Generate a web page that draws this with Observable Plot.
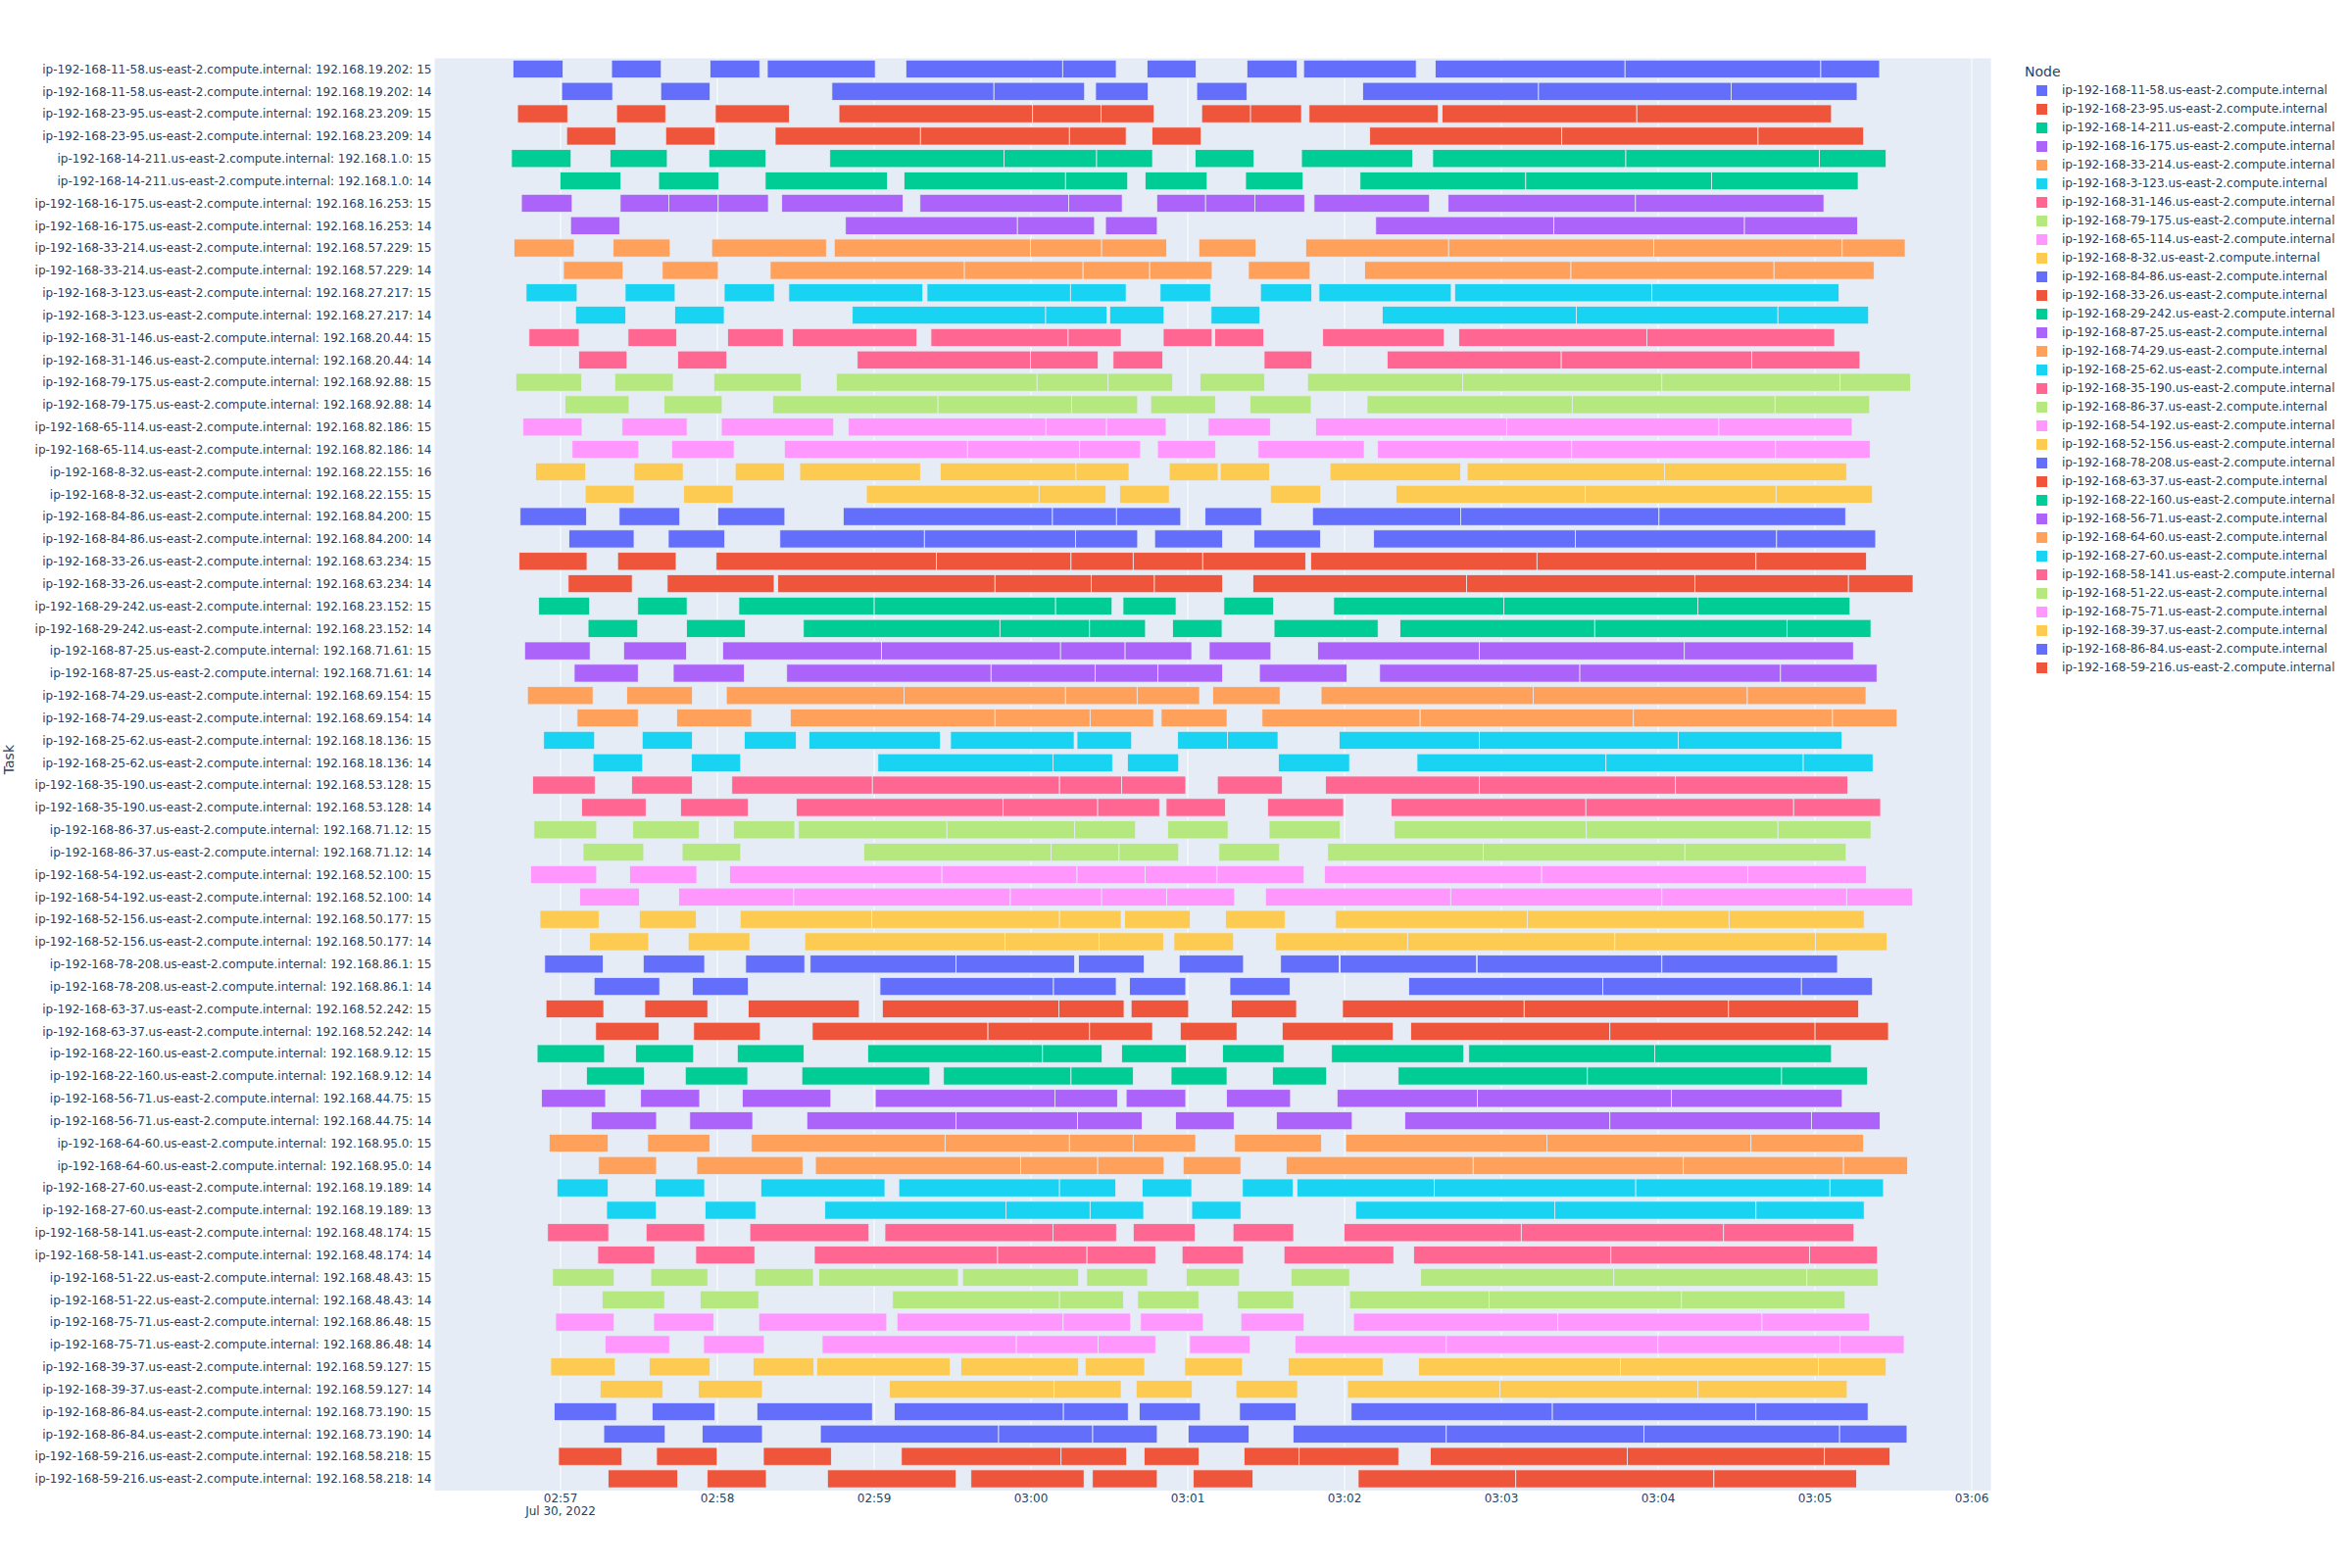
<!DOCTYPE html>
<html><head><meta charset="utf-8">
<script src="https://cdn.jsdelivr.net/npm/d3@7"></script>
<script src="https://cdn.jsdelivr.net/npm/@observablehq/plot@0.6"></script>
<style>
body{margin:0;background:#fff;font-family:"DejaVu Sans",verdana,arial,sans-serif;}
#wrap{position:relative;width:2400px;height:1600px;overflow:hidden;}
#wrap svg{position:absolute;left:0;top:0;}
.lg-title{position:absolute;font-size:14px;color:#2a3f5f;line-height:20px;white-space:nowrap;}
.lg-sw{position:absolute;width:11px;height:11px;}
.lg-tx{position:absolute;font-size:12px;color:#2a3f5f;line-height:19px;height:19px;white-space:nowrap;}
</style></head>
<body><div id="wrap"></div>
<script>
const hosts = ["11-58","23-95","14-211","16-175","33-214","3-123","31-146","79-175","65-114","8-32","84-86","33-26","29-242","87-25","74-29","25-62","35-190","86-37","54-192","52-156","78-208","63-37","22-160","56-71","64-60","27-60","58-141","51-22","75-71","39-37","86-84","59-216"];
const ips = ["192.168.19.202","192.168.23.209","192.168.1.0","192.168.16.253","192.168.57.229","192.168.27.217","192.168.20.44","192.168.92.88","192.168.82.186","192.168.22.155","192.168.84.200","192.168.63.234","192.168.23.152","192.168.71.61","192.168.69.154","192.168.18.136","192.168.53.128","192.168.71.12","192.168.52.100","192.168.50.177","192.168.86.1","192.168.52.242","192.168.9.12","192.168.44.75","192.168.95.0","192.168.19.189","192.168.48.174","192.168.48.43","192.168.86.48","192.168.59.127","192.168.73.190","192.168.58.218"];
const workers = [[15,14],[15,14],[15,14],[15,14],[15,14],[15,14],[15,14],[15,14],[15,14],[16,15],[15,14],[15,14],[15,14],[15,14],[15,14],[15,14],[15,14],[15,14],[15,14],[15,14],[15,14],[15,14],[15,14],[15,14],[15,14],[14,13],[15,14],[15,14],[15,14],[15,14],[15,14],[15,14]];

// bar start/end, seconds after 02:57:00 (Jul 30, 2022), one list per task row (top to bottom)
const segments = [
[[-18.0,1.1],[19.7,38.7],[57.4,76.4],[79.3,120.6],[132.3,192.3],[192.3,212.8],[224.6,243.4],[262.8,282.0],[284.5,327.6],[334.9,407.5],[407.5,482.4],[482.4,504.9]],
[[0.6,20.1],[38.5,57.4],[104.0,166.0],[166.0,200.7],[204.9,225.0],[243.6,262.8],[307.1,374.4],[374.4,448.1],[448.1,496.3]],
[[-16.3,2.9],[21.6,40.4],[59.4,87.7],[106.7,180.8],[180.8,207.0],[207.0,227.3],[245.5,264.2],[264.2,283.7],[286.6,336.0],[337.5,412.0],[412.0,486.5]],
[[2.5,21.3],[40.4,59.2],[82.3,137.9],[137.9,194.9],[194.9,216.6],[226.5,245.3],[309.8,383.3],[383.3,458.4],[458.4,498.8]],
[[-18.6,4.2],[19.1,41.0],[56.9,78.7],[103.2,169.9],[169.9,205.3],[205.3,226.7],[243.0,265.5],[283.7,326.2],[333.9,407.8],[407.8,481.9],[481.9,507.4]],
[[0.0,23.2],[37.7,60.7],[78.5,125.2],[131.6,193.4],[193.4,217.2],[223.9,247.6],[262.3,284.3],[306.1,369.5],[369.5,440.6],[440.6,496.7]],
[[-14.8,4.6],[23.0,41.6],[41.6,60.5],[60.5,79.7],[84.8,131.2],[137.7,194.6],[194.6,215.1],[228.3,247.0],[247.0,265.9],[265.9,284.9],[288.5,332.7],[339.8,411.5],[411.5,483.6]],
[[4.0,22.8],[109.2,175.0],[175.0,204.5],[208.7,228.5],[312.1,380.2],[380.2,453.2],[453.2,496.5]],
[[-17.6,5.4],[20.3,42.1],[58.0,101.9],[104.9,180.0],[180.0,207.2],[207.2,232.1],[244.4,266.3],[285.3,340.0],[340.0,418.5],[418.5,490.6],[490.6,514.7]],
[[1.3,24.1],[39.1,60.5],[80.4,154.7],[154.7,200.1],[200.1,225.6],[225.6,249.5],[263.4,287.0],[307.9,386.8],[386.8,464.5],[464.5,502.8]],
[[-13.0,6.5],[24.9,44.0],[62.8,82.0],[87.5,138.8],[140.4,195.3],[195.3,216.6],[229.6,248.9],[268.0,287.6],[290.4,341.0],[342.3,417.8],[417.8,489.4]],
[[5.9,25.1],[43.9,62.8],[111.8,185.8],[185.8,209.3],[210.3,231.1],[249.1,267.8],[314.6,388.9],[388.9,466.0],[466.0,500.7]],
[[-11.9,7.3],[26.0,44.6],[64.1,85.4],[88.9,136.5],[141.9,194.4],[194.4,214.7],[230.8,249.5],[250.5,269.2],[291.8,338.3],[343.9,415.9],[415.9,487.7]],
[[7.1,25.6],[45.0,63.8],[113.7,180.0],[180.0,205.9],[211.6,230.6],[269.4,287.7],[316.5,383.1],[383.1,456.0],[456.0,497.4]],
[[-16.9,8.2],[20.9,43.3],[58.8,92.3],[105.7,182.5],[182.5,209.7],[209.7,234.4],[244.9,269.6],[286.0,345.4],[345.4,421.6],[421.6,489.8],[489.8,516.8]],
[[1.9,26.4],[39.8,62.0],[81.4,144.6],[144.6,195.7],[195.7,221.0],[226.0,250.8],[264.0,287.4],[308.8,387.3],[387.3,464.9],[464.9,501.1]],
[[-14.2,8.4],[23.7,48.6],[61.7,104.7],[110.3,185.9],[185.9,209.1],[209.1,231.9],[248.0,271.8],[289.1,362.2],[362.2,443.4],[443.4,494.4]],
[[4.6,30.1],[42.7,66.6],[85.8,155.9],[155.9,198.8],[198.8,222.1],[228.6,250.9],[267.1,307.7],[312.8,387.1],[387.1,465.1],[465.1,501.3]],
[[-9.4,9.8],[28.3,47.1],[67.0,85.8],[91.7,137.9],[145.5,197.4],[197.4,217.7],[233.1,251.8],[252.6,271.5],[294.6,344.6],[347.1,422.6],[422.6,492.3]],
[[9.6,28.3],[47.3,66.2],[117.2,183.3],[183.3,208.9],[214.1,233.1],[271.8,291.0],[319.9,392.3],[392.3,465.3],[465.3,502.2]],
[[-15.3,10.1],[22.6,45.8],[60.3,86.0],[108.4,188.4],[188.4,212.9],[212.9,237.5],[246.8,268.4],[287.9,344.6],[344.6,420.5],[420.5,491.9]],
[[3.4,28.3],[41.4,63.0],[84.1,139.4],[139.4,197.2],[197.2,221.0],[227.5,253.5],[265.5,291.0],[311.3,388.5],[388.5,465.5],[465.5,503.4]],
[[-15.7,10.3],[22.0,44.4],[59.7,144.0],[144.0,195.5],[195.5,219.3],[219.3,245.9],[245.9,285.3],[287.2,373.8],[373.8,457.6],[457.6,499.9]],
[[3.1,27.6],[41.0,81.9],[83.3,166.4],[166.4,203.2],[203.2,227.4],[227.4,253.5],[265.1,346.9],[346.9,434.2],[434.2,493.0],[493.0,517.7]],
[[-8.2,11.3],[29.7,48.6],[68.4,120.2],[120.2,189.6],[189.6,211.2],[215.4,235.7],[254.0,273.0],[296.0,361.1],[361.1,435.4],[435.4,493.6]],
[[10.7,29.7],[48.4,70.9],[93.1,168.3],[168.3,202.6],[202.6,224.0],[234.4,253.3],[273.2,313.0],[321.4,395.9],[395.9,469.5],[469.5,501.6]],
[[-13.6,11.5],[24.3,48.4],[62.2,123.0],[123.0,191.5],[191.5,216.2],[216.2,241.7],[248.4,272.0],[289.9,351.7],[351.7,430.2],[430.2,494.9]],
[[5.4,29.9],[43.3,70.5],[86.7,164.9],[164.9,204.7],[204.7,228.7],[228.7,253.5],[267.6,301.1],[313.6,390.2],[390.2,467.0],[467.0,503.9]],
[[-12.5,12.6],[25.5,50.6],[63.6,131.6],[131.6,193.4],[193.4,220.8],[220.8,244.7],[249.7,275.5],[291.2,372.4],[372.4,454.3],[454.3,499.7]],
[[6.5,29.9],[44.6,73.3],[88.1,166.4],[166.4,202.8],[202.8,227.1],[230.0,255.2],[268.6,329.1],[329.1,410.7],[410.7,486.9],[486.9,511.6]],
[[-6.3,13.2],[31.4,50.6],[70.5,90.4],[95.2,145.5],[149.4,196.7],[197.8,218.7],[236.3,255.4],[255.4,274.7],[298.1,351.7],[351.7,427.9],[427.9,490.5]],
[[12.6,31.6],[50.2,69.1],[121.6,188.6],[188.6,211.4],[217.1,236.7],[274.9,302.1],[327.9,400.2],[400.2,475.7],[475.7,502.4]],
[[-10.5,13.4],[27.4,50.6],[65.7,119.5],[119.5,191.1],[191.1,214.9],[214.9,239.4],[251.5,276.4],[292.9,351.7],[351.7,426.8],[426.8,492.7]],
[[8.2,32.9],[46.1,72.0],[90.4,169.5],[169.5,205.7],[205.7,229.4],[231.9,254.6],[270.7,299.8],[318.0,392.5],[392.5,472.0],[472.0,505.3]],
[[-10.0,14.0],[27.8,53.2],[66.3,89.8],[91.2,148.0],[148.0,196.9],[196.9,220.2],[232.5,255.6],[271.3,298.5],[319.2,392.7],[392.7,466.0],[466.0,501.6]],
[[8.8,32.0],[46.7,69.1],[116.2,187.9],[187.9,213.9],[213.9,236.7],[252.1,275.3],[293.7,353.2],[353.2,430.4],[430.4,492.1]],
[[-11.3,14.0],[26.6,52.3],[64.9,146.1],[146.1,197.8],[197.8,223.9],[223.9,251.4],[251.4,284.7],[292.5,375.6],[375.6,454.5],[454.5,499.9]],
[[7.5,30.4],[45.4,89.4],[89.4,172.3],[172.3,207.2],[207.2,232.1],[232.1,258.1],[269.9,340.8],[340.8,421.6],[421.6,492.3],[492.3,517.5]],
[[-7.7,14.9],[30.3,52.1],[68.9,119.3],[119.3,191.1],[191.1,214.7],[216.0,241.1],[254.6,277.4],[296.7,370.1],[370.1,447.3],[447.3,499.0]],
[[11.3,33.9],[49.0,72.6],[93.6,170.2],[170.2,206.2],[206.2,230.9],[234.9,257.7],[273.8,324.3],[324.3,403.6],[403.6,480.4],[480.4,507.8]],
[[-5.9,16.5],[31.8,55.3],[71.0,93.6],[95.7,151.5],[151.5,196.9],[198.4,223.5],[236.9,261.5],[275.7,298.1],[298.5,350.7],[350.9,421.6],[421.6,488.8]],
[[13.0,38.1],[50.6,72.0],[122.4,188.8],[188.8,212.8],[217.9,239.4],[256.3,279.3],[324.7,399.0],[399.0,475.0],[475.0,502.2]],
[[-5.4,16.7],[32.4,56.5],[72.0,114.5],[123.3,190.9],[190.9,215.8],[218.5,240.5],[256.9,281.8],[299.4,368.9],[368.9,447.1],[447.1,496.9]],
[[13.6,37.9],[51.1,76.6],[96.5,163.7],[163.7,202.6],[202.6,226.7],[237.3,259.0],[276.3,318.8],[325.5,401.7],[401.7,480.2],[480.2,508.3]],
[[-8.8,17.0],[28.9,51.1],[67.8,93.3],[117.7,184.6],[184.6,207.4],[214.9,239.6],[253.5,277.0],[295.2,345.8],[347.7,418.9],[418.9,486.5]],
[[10.1,32.2],[47.9,71.8],[92.5,141.5],[146.7,195.5],[195.5,219.3],[233.8,255.2],[272.6,293.3],[320.7,393.1],[393.1,467.4],[467.4,500.3]],
[[-7.1,17.4],[30.8,53.4],[69.7,103.6],[120.6,189.4],[189.4,213.3],[216.6,239.4],[255.0,279.5],[297.3,351.0],[351.0,425.2],[425.2,490.6]],
[[11.9,36.9],[49.6,73.7],[94.4,151.5],[151.5,198.0],[198.0,222.7],[235.5,257.9],[274.1,303.1],[323.2,401.7],[401.7,478.9],[478.9,505.1]],
[[-4.2,18.4],[33.5,57.3],[73.2,147.3],[147.3,194.9],[194.9,219.3],[219.3,243.2],[258.1,291.4],[300.6,377.6],[377.6,455.7],[455.7,498.8]],
[[14.7,36.9],[52.3,92.9],[97.7,176.2],[176.2,205.7],[205.7,231.1],[238.4,260.5],[277.8,349.4],[349.4,429.8],[429.8,491.1],[491.1,515.6]],
[[-1.2,18.4],[36.4,55.3],[76.8,124.3],[129.6,191.1],[191.1,212.6],[222.7,241.7],[261.1,280.5],[282.0,334.5],[334.5,411.6],[411.6,485.9],[485.9,506.4]],
[[17.8,36.8],[55.5,74.9],[101.3,170.6],[170.6,202.8],[202.8,223.3],[241.7,260.5],[304.4,380.6],[380.6,457.6],[457.6,499.0]],
[[-4.8,18.6],[32.9,55.3],[72.6,118.2],[124.3,188.6],[188.6,212.9],[219.3,243.0],[257.5,280.7],[300.0,367.8],[367.8,445.2],[445.2,495.1]],
[[14.4,36.2],[51.9,74.5],[97.3,167.4],[167.4,201.6],[201.6,227.9],[238.0,261.5],[277.0,319.0],[326.6,402.1],[402.1,478.1],[478.1,504.1]],
[[-2.9,20.7],[34.7,56.5],[74.5,96.9],[99.0,152.4],[154.0,198.4],[201.5,224.8],[239.6,260.0],[279.7,302.1],[329.3,403.2],[403.2,477.1],[477.1,504.3]],
[[16.1,40.0],[53.6,76.0],[127.2,191.1],[191.1,215.6],[221.0,244.4],[259.2,280.7],[302.1,355.5],[355.5,429.1],[429.1,491.7]],
[[-1.7,20.7],[35.8,58.8],[76.0,125.0],[128.9,192.5],[192.5,218.3],[222.1,246.1],[260.5,284.7],[303.6,381.8],[381.8,459.9],[459.9,501.1]],
[[17.2,41.9],[54.9,78.1],[100.3,174.6],[174.6,205.9],[205.9,227.9],[240.9,264.0],[281.2,339.1],[339.1,420.1],[420.1,489.8],[489.8,514.3]],
[[-3.6,21.1],[34.1,57.4],[73.9,97.1],[98.2,149.2],[153.4,198.4],[200.9,223.7],[239.0,261.1],[278.6,314.9],[328.5,405.7],[405.7,481.5],[481.5,507.4]],
[[15.3,39.3],[52.9,77.4],[126.0,189.0],[189.0,214.7],[220.4,241.9],[258.6,282.2],[301.3,359.6],[359.6,435.4],[435.4,492.5]],
[[-2.3,21.6],[35.2,59.2],[75.3,119.5],[127.9,192.6],[192.6,217.4],[221.6,245.0],[260.0,281.6],[302.7,379.7],[379.7,457.6],[457.6,500.5]],
[[16.7,40.2],[54.4,77.4],[99.6,167.8],[167.8,203.8],[203.8,228.5],[240.3,263.6],[280.5,339.1],[339.1,414.7],[414.7,489.6],[489.6,515.4]],
[[-0.6,23.7],[36.9,60.1],[77.8,103.8],[130.6,191.7],[191.7,216.8],[223.5,244.5],[261.7,282.8],[282.8,320.9],[333.0,408.4],[408.4,483.8],[483.8,508.9]],
[[18.4,45.0],[56.3,78.9],[102.3,151.5],[157.2,200.5],[203.7,228.5],[242.3,265.1],[305.4,365.7],[365.7,441.5],[441.5,496.1]]
];

const tickLabels = ["02:57","02:58","02:59","03:00","03:01","03:02","03:03","03:04","03:05","03:06"];
const dateLabel = "Jul 30, 2022";
const palette = ["#636efa","#EF553B","#00cc96","#ab63fa","#FFA15A","#19d3f3","#FF6692","#B6E880","#FF97FF","#FECB52"];

const nodes = hosts.map(h => `ip-192-168-${h}.us-east-2.compute.internal`);
const taskLabels = [], taskNodes = [];
hosts.forEach((h, i) => workers[i].forEach(w => {
  taskLabels.push(`${nodes[i]}: ${ips[i]}: ${w}`);
  taskNodes.push(nodes[i]);
}));

const base = Date.UTC(2022, 6, 30, 2, 57, 0);
const toDate = s => new Date(base + s * 1000);
const rows = [];
segments.forEach((segs, i) => segs.forEach(([a, b]) => rows.push({task: taskLabels[i], node: taskNodes[i], start: toDate(a), end: toDate(b)})));

const lo = d3.min(segments.flat(), d => d[0]);
const hi = d3.max(segments.flat(), d => d[1]);
const pad = (hi - lo) * 0.0552;
const tickDates = tickLabels.map((_, i) => new Date(base + i * 60000));
const colorRange = nodes.map((_, i) => palette[i % palette.length]);

const chart = Plot.plot({
  width: 2400, height: 1600,
  marginLeft: 443, marginRight: 369, marginTop: 59, marginBottom: 79.6,
  style: {fontFamily: '"DejaVu Sans", verdana, arial, sans-serif', fontSize: "12px", color: "#2a3f5f", background: "transparent", overflow: "visible"},
  x: {type: "utc", domain: [toDate(lo - pad), toDate(hi + pad)]},
  y: {domain: taskLabels, paddingInner: 0.2, paddingOuter: 0.1},
  color: {domain: nodes, range: colorRange},
  marks: [
    Plot.frame({fill: "#E5ECF6", stroke: null}),
    Plot.gridX(tickDates, {stroke: "#ffffff", strokeOpacity: 1, strokeWidth: 1}),
    Plot.barX(rows, {x1: "start", x2: "end", y: "task", fill: "node", stroke: "#E5ECF6", strokeWidth: 0.8}),
    Plot.axisX(tickDates, {tickSize: 0, tickPadding: 4, fontSize: 12, label: null,
      tickFormat: d => tickLabels[Math.round((d - base) / 60000)]}),
    Plot.text([dateLabel], {x: [tickDates[0]], text: d => d, frameAnchor: "bottom", dy: 25, fontSize: 12, fill: "#2a3f5f"}),
    Plot.axisY({tickSize: 0, tickPadding: 3, fontSize: 12, label: null}),
    Plot.text(["Task"], {text: d => d, frameAnchor: "left", dx: -434, rotate: -90, fontSize: 14, fill: "#2a3f5f"})
  ]
});
const wrap = document.getElementById("wrap");
wrap.appendChild(chart);

// legend
const lt = document.createElement("div");
lt.className = "lg-title"; lt.textContent = "Node";
lt.style.left = "2066px"; lt.style.top = "63px";
wrap.appendChild(lt);
nodes.forEach((n, i) => {
  const cy = 92.8 + i * 19;
  const sw = document.createElement("div");
  sw.className = "lg-sw"; sw.style.background = colorRange[i];
  sw.style.left = "2078px"; sw.style.top = (cy - 5.5) + "px";
  wrap.appendChild(sw);
  const tx = document.createElement("div");
  tx.className = "lg-tx"; tx.textContent = n;
  tx.style.left = "2104px"; tx.style.top = (cy - 9.5) + "px";
  wrap.appendChild(tx);
});
</script>
</body></html>
